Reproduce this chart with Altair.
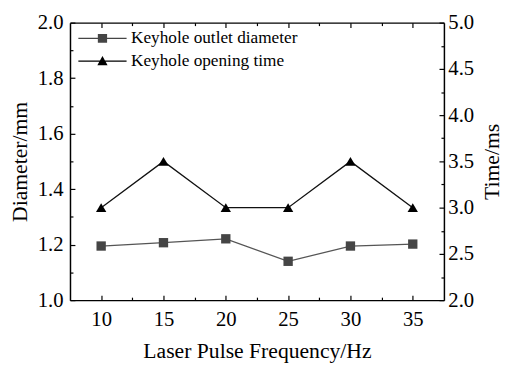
import altair as alt
import pandas as pd

# ---- data ----
freq = [10, 15, 20, 25, 30, 35]
diameter = [1.195, 1.207, 1.221, 1.140, 1.195, 1.202]
opening_time = [3.0, 3.5, 3.0, 3.0, 3.5, 3.0]
series_names = ["Keyhole outlet diameter", "Keyhole opening time"]
x_ticks = [10, 12.5, 15, 17.5, 20, 22.5, 25, 27.5, 30, 32.5, 35]
left_ticks = [1.0, 1.1, 1.2, 1.3, 1.4, 1.5, 1.6, 1.7, 1.8, 1.9, 2.0]
right_ticks = [2.0, 2.25, 2.5, 2.75, 3.0, 3.25, 3.5, 3.75, 4.0, 4.25, 4.5, 4.75, 5.0]

df = pd.DataFrame({"freq": freq, "diameter": diameter, "time": opening_time})
leg = pd.DataFrame({"series": series_names})

FONT = "Liberation Serif"

common = dict(
    domainColor="black", domainWidth=1.5, tickColor="black", tickWidth=1.2,
    labelFont=FONT, labelFontSize=21, labelColor="black",
    titleFont=FONT, titleFontSize=22, titleFontWeight="normal", titleColor="black",
    grid=False, labelOverlap=False, labelFlush=False,
)

x_major = "datum.value % 5 == 0"
l_major = "abs(datum.value*5 - round(datum.value*5)) < 0.001"
r_major = "abs(datum.value*2 - round(datum.value*2)) < 0.001"

x_scale = alt.Scale(domain=[7.5, 37.5], nice=False, zero=False)

x_bottom = alt.X(
    "freq:Q", scale=x_scale,
    axis=alt.Axis(orient="bottom", values=x_ticks, title="Laser Pulse Frequency/Hz",
                  labelExpr=f"{x_major} ? datum.label : ''",
                  tickSize={"expr": f"{x_major} ? -5 : -3"},
                  labelPadding=14, titlePadding=9, **common),
)
x_top = alt.X(
    "freq:Q", scale=x_scale,
    axis=alt.Axis(orient="top", values=x_ticks, title="", labels=False,
                  tickSize={"expr": f"{x_major} ? -5 : -3"}, **common),
)
y_left = alt.Y(
    "diameter:Q", scale=alt.Scale(domain=[1.0, 2.0], nice=False, zero=False),
    axis=alt.Axis(orient="left", values=left_ticks, format=".1f", title="Diameter/mm",
                  labelExpr=f"{l_major} ? datum.label : ''",
                  tickSize={"expr": f"{l_major} ? -5 : -3"},
                  labelPadding=12, titlePadding=6, **common),
)
y_right = alt.Y(
    "time:Q", scale=alt.Scale(domain=[2.0, 5.0], nice=False, zero=False),
    axis=alt.Axis(orient="right", values=right_ticks, format=".1f", title="Time/ms",
                  titleAngle=270, titleBaseline="top",
                  labelExpr=f"{r_major} ? datum.label : ''",
                  tickSize={"expr": f"{r_major} ? -5 : -3"},
                  labelPadding=9, titlePadding=8, **common),
)

base = alt.Chart(df)

diam = base.mark_line(
    color="#555555", strokeWidth=1.3,
    point=alt.OverlayMarkDef(shape="square", size=90, filled=True, color="#454545", opacity=1),
).encode(x=x_bottom, y=y_left)

timel = base.mark_line(
    color="#111111", strokeWidth=1.3,
    point=alt.OverlayMarkDef(shape="triangle-up", size=110, filled=True, color="black", opacity=1),
).encode(x=x_top, y=y_right)

sq_path = "M-2.45,-0.065H2.45V0.065H-2.45Z M-0.47,-0.45H0.47V0.45H-0.47Z"
tri_path = "M-2.45,-0.065H2.45V0.065H-2.45Z M0,-0.5L0.52,0.42L-0.52,0.42Z"

legend = alt.Legend(
    title=None, orient="none", legendX=23, legendY=6, padding=0,
    symbolSize=400, symbolStrokeWidth=0, symbolOpacity=1, symbolOffset=0,
    labelFont=FONT, labelFontSize=17.5, labelColor="black", labelOffset=19, rowPadding=4,
    labelLimit=400,
)

legend_layer = alt.Chart(leg).mark_point(filled=True, opacity=0).encode(
    color=alt.Color("series:N", scale=alt.Scale(domain=series_names, range=["#454545", "#000000"]),
                    legend=legend),
    shape=alt.Shape("series:N", scale=alt.Scale(domain=series_names, range=[sq_path, tri_path]),
                    legend=legend),
)

chart = alt.layer(diam, timel, legend_layer).resolve_scale(y="independent").properties(
    width=380, height=282,
    autosize=alt.AutoSizeParams(type="none"),
    padding={"left": 63, "top": 12, "right": 58, "bottom": 61},
    background="white",
).configure_view(stroke=None)

chart.save("out.html", embed_options={"renderer": "svg", "actions": False})
